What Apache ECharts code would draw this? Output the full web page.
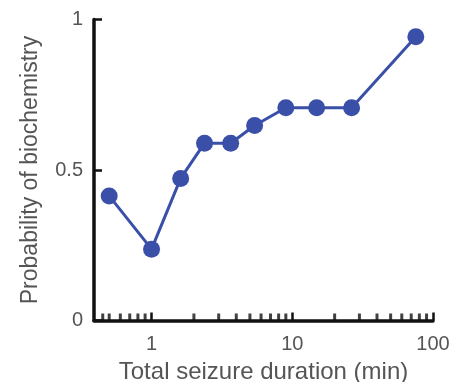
<!DOCTYPE html>
<html><head><meta charset="utf-8">
<script src="https://cdn.jsdelivr.net/npm/echarts@6/dist/echarts.min.js"></script>
<style>html,body{margin:0;padding:0;background:#fff}#c{width:457px;height:382px}</style>
</head><body><div id="c"></div>
<script>
const durations = [0.5, 1, 1.61, 2.38, 3.65, 5.4, 9.0, 14.9, 26.4, 75.5];
const probabilities = [0.414, 0.237, 0.472, 0.589, 0.589, 0.648, 0.707, 0.707, 0.707, 0.943];
const xMajorTicks = [1, 10, 100];
const xMinorTicks = [0.45, 0.5, 0.6, 0.7, 0.8, 0.9, 2, 3, 4, 5, 6, 7, 8, 9, 20, 30, 40, 50, 60, 70, 80, 90];
const yTicks = [0, 0.5, 1];
const xMin = 0.39, xMax = 100;

const chart = echarts.init(document.getElementById('c'));
const font = 'Liberation Sans, Arial, Helvetica, sans-serif';
chart.setOption({
  animation: false,
  grid: {left: 94, right: 24, top: 19.5, bottom: 61.5, containLabel: false, outerBoundsMode: 'none'},
  xAxis: {
    type: 'log', logBase: 10, min: xMin, max: xMax,
    name: 'Total seizure duration (min)', nameLocation: 'middle', nameGap: 40,
    nameTextStyle: {fontFamily: font, fontSize: 24, color: '#555'},
    axisLine: {show: true, onZero: false, lineStyle: {color: '#111', width: 3.5}},
    axisTick: {show: true, inside: true, length: 8, lineStyle: {color: '#111', width: 2.5}, customValues: xMajorTicks},
    axisLabel: {show: true, margin: 14, fontFamily: font, fontSize: 20, color: '#555', customValues: xMajorTicks,
      formatter: v => String(v)},
    minorTick: {show: false},
    splitLine: {show: false}
  },
  yAxis: {
    type: 'value', min: 0, max: 1, interval: 0.5,
    name: 'Probability of biochemistry', nameLocation: 'middle', nameGap: 52,
    nameTextStyle: {fontFamily: font, fontSize: 23, color: '#555'},
    axisLine: {show: true, onZero: false, lineStyle: {color: '#111', width: 3.5}},
    axisTick: {show: true, inside: true, length: 8, lineStyle: {color: '#111', width: 2.5}},
    axisLabel: {margin: 11, fontFamily: font, fontSize: 20, color: '#555',
      formatter: v => String(v)},
    splitLine: {show: false}
  },
  series: [{
    type: 'scatter',
    name: 'minor ticks',
    data: xMinorTicks.map(v => [v, 0]),
    symbol: 'rect', symbolSize: [3, 7], symbolOffset: [0, -3.5],
    itemStyle: {color: '#111'},
    silent: true, clip: false, z: 1
  }, {
    type: 'line',
    data: durations.map((d, i) => [d, probabilities[i]]),
    symbol: 'circle', symbolSize: 17,
    lineStyle: {color: '#3a4fa8', width: 3},
    itemStyle: {color: '#3a4fa8'},
    z: 5
  }]
});
</script></body></html>
